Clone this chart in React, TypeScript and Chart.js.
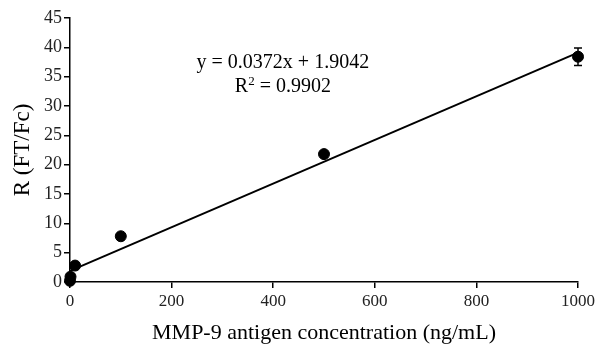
import React, { useEffect, useRef } from "react";
import { Chart, registerables } from "chart.js";

Chart.register(...registerables);

const concentrations = [0, 1, 10, 100, 500, 1000];
const ratios = [0.2, 0.9, 2.8, 7.8, 21.8, 38.4];
const ratioErrors = [0.2, 0.3, 0.3, 0.3, 0.6, 1.5];
const fitSlope = 0.0372;
const fitIntercept = 1.9042;
const fitX = [0, 1000];
const equationText = "y = 0.0372x + 1.9042";
const r2Text = "= 0.9902";
const xTicks = [0, 200, 400, 600, 800, 1000];
const yTicks = [0, 5, 10, 15, 20, 25, 30, 35, 40, 45];

const FONT = "'Liberation Serif', 'Times New Roman', serif";

const errorBarPlugin = {
  id: "errorBars",
  afterDatasetsDraw(chart: any) {
    const ctx = chart.ctx;
    const xs = chart.scales.x;
    const ys = chart.scales.y;
    ctx.save();
    ctx.strokeStyle = "#000";
    ctx.lineWidth = 1.5;
    concentrations.forEach((c, i) => {
      const e = ratioErrors[i];
      const px = xs.getPixelForValue(c);
      const top = ys.getPixelForValue(ratios[i] + e);
      const bot = ys.getPixelForValue(ratios[i] - e);
      if (bot - top < 12) return;
      ctx.beginPath();
      ctx.moveTo(px, top);
      ctx.lineTo(px, bot);
      ctx.moveTo(px - 4, top);
      ctx.lineTo(px + 4, top);
      ctx.moveTo(px - 4, bot);
      ctx.lineTo(px + 4, bot);
      ctx.stroke();
    });
    // equation text
    const cx = xs.getPixelForValue(419);
    const y1 = ys.getPixelForValue(37.3);
    const y2 = ys.getPixelForValue(33.3);
    const big = `20px ${FONT}`;
    const small = `13px ${FONT}`;
    ctx.fillStyle = "#000";
    ctx.textBaseline = "middle";
    ctx.textAlign = "center";
    ctx.font = big;
    ctx.fillText(equationText, cx, y1);
    // R² line
    const rW = ctx.measureText("R").width;
    ctx.font = small;
    const sW = ctx.measureText("2").width;
    ctx.font = big;
    const restW = ctx.measureText(" " + r2Text).width;
    const total = rW + sW + restW;
    const x0 = cx - total / 2;
    ctx.textAlign = "left";
    ctx.fillText("R", x0, y2);
    ctx.font = small;
    ctx.fillText("2", x0 + rW, y2 - 5);
    ctx.font = big;
    ctx.fillText(" " + r2Text, x0 + rW + sW, y2);
    ctx.restore();
  },
};

export default function App() {
  const ref = useRef<HTMLCanvasElement>(null);
  useEffect(() => {
    document.body.style.margin = "0";
    const chart = new Chart(ref.current!, {
      type: "scatter",
      data: {
        datasets: [
          {
            type: "scatter",
            data: concentrations.map((c, i) => ({ x: c, y: ratios[i] })),
            backgroundColor: "#000",
            borderColor: "#000",
            pointRadius: 5.5,
            clip: false,
            order: 1,
          } as any,
          {
            type: "line",
            data: fitX.map((x) => ({ x, y: fitSlope * x + fitIntercept })),
            borderColor: "#000",
            borderWidth: 2,
            pointRadius: 0,
            fill: false,
            clip: false,
            order: 2,
          } as any,
        ],
      },
      options: {
        animation: false,
        responsive: false,
        maintainAspectRatio: false,
        layout: { padding: { top: 18, right: 17, left: 0, bottom: 0 } },
        plugins: { legend: { display: false }, tooltip: { enabled: false } },
        scales: {
          x: {
            type: "linear",
            min: 0,
            max: 1000,
            afterBuildTicks: (s: any) => {
              s.ticks = xTicks.map((v) => ({ value: v }));
            },
            afterFit: (s: any) => {
              s.height = 64;
              s.paddingRight = 0;
              s.paddingLeft = 0;
            },
            ticks: {
              color: "#222",
              font: { family: FONT, size: 17 },
              padding: 3,
              maxRotation: 0,
              callback: (v: any) => String(v),
            },
            grid: { drawOnChartArea: false, drawTicks: true, tickLength: 6, color: "#000", lineWidth: 1.5 },
            border: { display: true, color: "#000", width: 1.5 },
            title: {
              display: true,
              text: "MMP-9 antigen concentration (ng/mL)",
              color: "#000",
              font: { family: FONT, size: 22 },
              padding: { top: 2, bottom: 0 },
            },
          },
          y: {
            type: "linear",
            min: 0,
            max: 45,
            afterBuildTicks: (s: any) => {
              s.ticks = yTicks.map((v) => ({ value: v }));
            },
            afterFit: (s: any) => {
              s.width = 70;
            },
            ticks: {
              color: "#222",
              font: { family: FONT, size: 18 },
              padding: 2,
              callback: (v: any) => String(v),
            },
            grid: { drawOnChartArea: false, drawTicks: true, tickLength: 6, color: "#000", lineWidth: 1.5 },
            border: { display: true, color: "#000", width: 1.5 },
            title: {
              display: true,
              text: "R (FT/Fc)",
              color: "#000",
              font: { family: FONT, size: 23 },
              padding: { top: 9, bottom: 0 },
            },
          },
        },
      },
      plugins: [errorBarPlugin],
    });
    return () => chart.destroy();
  }, []);
  return (
    <div style={{ width: 595, height: 346 }}>
      <canvas ref={ref} width={595} height={346} style={{ width: 595, height: 346, display: "block" }} />
    </div>
  );
}
